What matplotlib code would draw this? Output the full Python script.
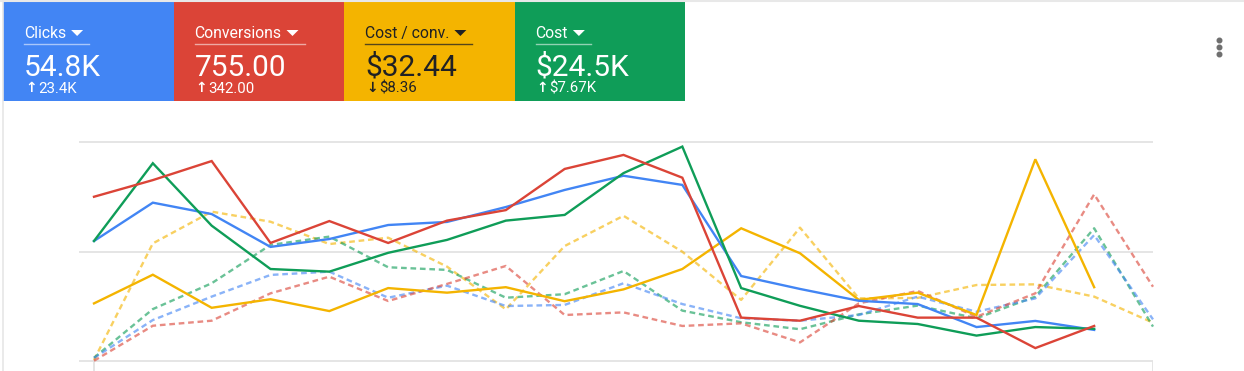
import matplotlib
matplotlib.use("Agg")
import matplotlib.pyplot as plt
import numpy as np
from matplotlib.patches import Rectangle, Polygon
from matplotlib.lines import Line2D

W, H = 1244, 371
plt.rcParams["font.family"] = ["Roboto", "DejaVu Sans"]

# --- scorecards ---
card_titles = ["Clicks", "Conversions", "Cost / conv.", "Cost"]
card_values = ["54.8K", "755.00", "$32.44", "$24.5K"]
card_arrows = ["\u2191", "\u2191", "\u2193", "\u2191"]
card_changes = ["23.4K", "342.00", "$8.36", "$7.67K"]
card_colors = ["#4285F4", "#DB4437", "#F4B400", "#0F9D58"]
card_text = ["white", "white", "#202124", "white"]

# --- series (current period, solid) ---
clicks = [54.8, 72.3, 67.1, 52.1, 55.7, 62.1, 63.5, 70.3, 78.1, 84.6, 80.4, 38.8,
          32.9, 27.5, 26.0, 15.5, 18.3, 14.2]
conversions = [75.0, 82.6, 91.3, 53.9, 63.9, 53.9, 64.1, 68.9, 87.7, 94.1, 83.7, 19.8,
               18.4, 25.1, 19.8, 19.8, 5.9, 16.0]
cost_per_conv = [26.3, 39.4, 24.3, 28.2, 22.8, 33.3, 31.2, 33.7, 27.3, 32.7, 42.0, 60.6,
                 49.2, 27.9, 31.2, 21.0, 92.1, 33.7]
cost = [54.8, 90.3, 61.8, 42.0, 40.8, 49.4, 55.3, 64.1, 66.7, 85.8, 97.9, 33.3,
        25.2, 18.4, 16.9, 11.6, 15.5, 14.7]

# --- previous period (dashed) ---
clicks_prev = [1.4, 18.7, 29.4, 39.3, 40.8, 28.9, 34.4, 25.1, 25.6, 35.5, 26.0, 19.5,
               18.4, 21.0, 29.4, 22.5, 28.6, 57.5, 19.0]
conversions_prev = [0.1, 16.1, 18.4, 30.9, 38.5, 27.4, 35.2, 43.4, 21.0, 22.2, 16.0, 17.2,
                    8.5, 26.3, 32.0, 20.2, 30.9, 76.1, 33.9]
cost_per_conv_prev = [0.5, 53.7, 68.2, 63.6, 53.4, 56.3, 43.1, 23.6, 52.5, 66.3, 49.9, 27.9,
                      60.9, 28.6, 28.8, 34.7, 35.0, 29.4, 17.5]
cost_prev = [1.5, 23.7, 35.5, 53.0, 56.8, 42.8, 41.6, 28.9, 30.5, 41.1, 23.0, 17.7,
             14.5, 21.3, 25.3, 19.5, 29.4, 60.6, 15.7]

grid_vals = [0, 50, 100]

fig = plt.figure(figsize=(W / 100, H / 100), dpi=100)


def fx(x):
    return x / W


def fy(y):
    return 1 - y / H


# card border
fig.add_artist(Line2D([fx(0), fx(W)], [fy(1), fy(1)], color="#e8e8e8", lw=1.5))
fig.add_artist(Line2D([fx(2.5), fx(2.5)], [fy(0), fy(H)], color="#e6e6e6", lw=1.2))

# axes: pixel box 79..1153 wide, 132..371 tall
ax = fig.add_axes([fx(79), 0, fx(1153) - fx(79), fy(132)])
ybot = -(371 - 361) / 2.19
ytop = 100 + 10 / 2.19
ax.set_xlim(-0.255, 18)
ax.set_ylim(ybot, ytop)
ax.axis("off")

ax.hlines(grid_vals, -0.255, 18, color="#e3e3e3", lw=1.3, zorder=0)
ax.vlines([0, 18], ybot, 0, color="#e3e3e3", lw=1.3, zorder=0)

prev = [clicks_prev, conversions_prev, cost_per_conv_prev, cost_prev]
curr = [clicks, conversions, cost_per_conv, cost]

for i in [2, 3, 0, 1]:
    ys = prev[i]
    ax.plot(np.arange(len(ys)), ys, color=card_colors[i], lw=1.7, alpha=0.62,
            linestyle=(0, (2.4, 1.6)), zorder=2, clip_on=False)

for i in [2, 0, 3, 1]:
    ys = curr[i]
    ax.plot(np.arange(len(ys)), ys, color=card_colors[i], lw=1.7, zorder=3,
            solid_joinstyle="miter", clip_on=False)

# scorecard tiles
fig.canvas.draw()
renderer = fig.canvas.get_renderer()
tile_w = 170.5
for i in range(4):
    x0 = 3 + i * tile_w
    fig.add_artist(Rectangle((fx(x0), fy(101)), fx(tile_w), fy(2) - fy(101),
                             transform=fig.transFigure, color=card_colors[i], lw=0, zorder=1))
    tc = card_text[i]
    tx = x0 + 21
    t = fig.text(fx(tx), fy(38), card_titles[i], color=tc, fontsize=11.3,
                 ha="left", va="baseline", zorder=3)
    bb = t.get_window_extent(renderer)
    tri_x = bb.x1 + 5
    tri = Polygon([(fx(tri_x), fy(30)), (fx(tri_x + 12), fy(30)), (fx(tri_x + 6), fy(36))],
                  closed=True, transform=fig.transFigure, color=tc, lw=0, zorder=3)
    fig.add_artist(tri)
    ul_alpha = 0.55 if tc == "white" else 0.75
    fig.add_artist(Line2D([fx(tx), fx(tri_x + 18)], [fy(44), fy(44)], color=tc,
                          lw=1.0, alpha=ul_alpha, zorder=3))
    fig.text(fx(tx), fy(76), card_values[i], color=tc, fontsize=21.5,
             ha="left", va="baseline", zorder=3)
    fig.text(fx(tx + 1), fy(92), card_arrows[i], color=tc, fontsize=10,
             fontweight="bold", family="DejaVu Sans", ha="left", va="baseline", zorder=3)
    fig.text(fx(tx + 14), fy(93), card_changes[i], color=tc, fontsize=10.8,
             ha="left", va="baseline", zorder=3)

# kebab menu
for yy in [40, 47, 54]:
    fig.add_artist(Line2D([fx(1218.5)], [fy(yy)], marker="o", markersize=3.3,
                          color="#6f6f6f", lw=0))

fig.savefig("out.png", dpi=100)
